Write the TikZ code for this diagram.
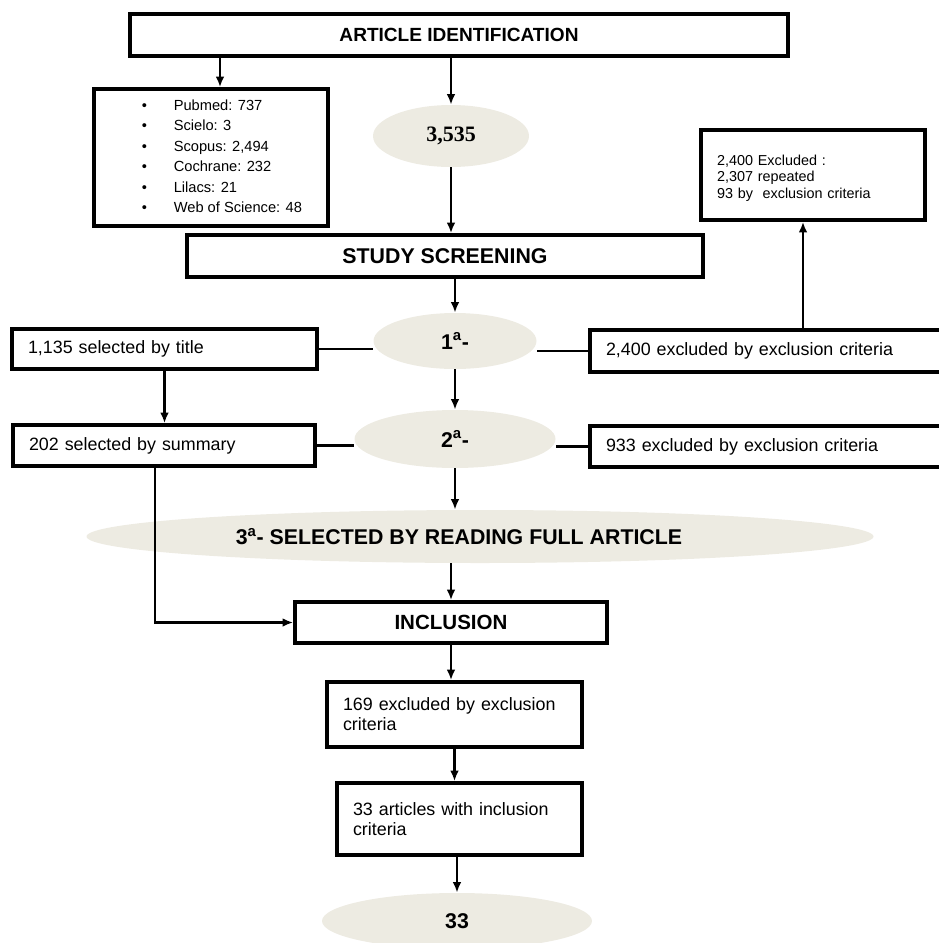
\documentclass[tikz,border=0pt]{standalone}
\usepackage{fontspec}
\setmainfont{Liberation Sans}
\newfontfamily\timesfont{Liberation Serif}
\usetikzlibrary{shapes.geometric,arrows.meta}
\definecolor{ovalfill}{RGB}{237,235,226}

\begin{document}
\begin{tikzpicture}[x=0.75pt,y=-0.75pt,
  box/.style={draw,line width=2.7pt,inner sep=0pt},
  lbox/.style={box,align=left,inner xsep=12pt,font=\fontsize{13.4}{15}\selectfont},
  oval/.style={ellipse,fill=ovalfill,inner sep=0pt,font=\bfseries\fontsize{16}{19}\selectfont},
  arr/.style={line width=1.7pt,-{Latex[length=8pt,width=6.5pt]}},
  link/.style={line width=1.7pt}]
\useasboundingbox (0,0) rectangle (939,943);

% identification
\node[box,minimum width=493.5pt,minimum height=31.5pt,font=\bfseries\fontsize{14.3}{17}\selectfont] (ai) at (459,35) {ARTICLE IDENTIFICATION};
\node[box,minimum width=175.5pt,minimum height=102.75pt,font=\fontsize{11}{15.4}\selectfont] (db) at (211,157.5) {%
  \begin{tabular}{@{\hskip16.5pt}l@{\hskip20pt}l@{}}
  \textbullet & Pubmed: 737\\
  \textbullet & Scielo: 3\\
  \textbullet & Scopus: 2,494\\
  \textbullet & Cochrane: 232\\
  \textbullet & Lilacs: 21\\
  \textbullet & Web of Science: 48
  \end{tabular}};
\node[oval,minimum width=117pt,minimum height=46.5pt,font=\timesfont\bfseries\fontsize{16.5}{19}\selectfont] (n3535) at (451,136) {3,535};
\node[box,minimum width=168pt,minimum height=67.5pt,align=left,text width=144pt,inner xsep=12pt,font=\fontsize{10.8}{12.4}\selectfont] (why) at (813,175) {\mbox{}\\2,400 Excluded :\\2,307 repeated\\93 by\ \ exclusion criteria};

% screening
\node[box,minimum width=387pt,minimum height=31.5pt,font=\bfseries\fontsize{16}{19}\selectfont] (ss) at (445,256) {STUDY SCREENING};
\node[oval,minimum width=122.25pt,minimum height=42pt] (r1) at (455,341) {1\textsuperscript{a}-};
\node[oval,minimum width=150.75pt,minimum height=43.5pt] (r2) at (455,439) {2\textsuperscript{a}-};
\node[oval,minimum width=590.25pt,minimum height=39.75pt] (r3) at (480,536.5) {3\textsuperscript{a}- SELECTED BY READING FULL ARTICLE\hspace*{31.5pt}};
\node[lbox,text width=204.75pt,minimum height=30pt] (title) at (164.5,349) {1,135 selected by title};
\node[lbox,text width=202.5pt,minimum height=30.75pt] (summary) at (164,445.5) {202 selected by summary};
\node[lbox,text width=242.25pt,minimum height=31.5pt] (out1) at (767.5,351) {2,400 excluded by exclusion criteria};
\node[lbox,text width=242.25pt,minimum height=30.75pt] (out2) at (767.5,446.5) {933 excluded by exclusion criteria};

% inclusion
\node[box,minimum width=234pt,minimum height=30.75pt,font=\bfseries\fontsize{15.4}{18}\selectfont] (inc) at (451,622.5) {INCLUSION};
\node[lbox,text width=167.25pt,minimum height=48.75pt] (drop) at (454.5,714.5) {169 excluded by exclusion\\criteria};
\node[lbox,text width=159.75pt,minimum height=54pt] (kept) at (459.5,819) {33 articles with inclusion\\criteria};
\node[oval,minimum width=202.5pt,minimum height=42pt] (final) at (457,921) {33};

\coordinate (dbin) at ([xshift=6.75pt]db.north);
\coordinate (whyin) at ([xshift=-7.5pt]why.south);
\coordinate (sumout) at ([xshift=-6.75pt]summary.south);

\draw[arr] (dbin |- ai.south) -- (dbin);
\draw[arr] (n3535.north |- ai.south) -- (n3535.north);
\draw[arr] (n3535.south) -- (n3535.south |- ss.north);
\draw[arr] (r1.north |- ss.south) -- (r1.north);
\draw[link] (title.east) -- (title.east -| r1.west);
\draw[link] (out1.west) -- (out1.west -| r1.east);
\draw[arr] (whyin |- out1.north) -- (whyin);
\draw[arr] (title.south) -- (title.south |- summary.north);
\draw[arr] (r1.south) -- (r2.north);
\draw[link] (summary.east) -- (summary.east -| r2.west);
\draw[link] (out2.west) -- (out2.west -| r2.east);
\draw[arr] (r2.south) -- (r2.south |- r3.north);
\draw[arr] (sumout) |- (inc.west);
\draw[arr] (inc.north |- r3.south) -- (inc.north);
\draw[arr] (inc.south) -- (inc.south |- drop.north);
\draw[arr] (drop.south) -- (drop.south |- kept.north);
\draw[arr] (final.north |- kept.south) -- (final.north);
\end{tikzpicture}
\end{document}
